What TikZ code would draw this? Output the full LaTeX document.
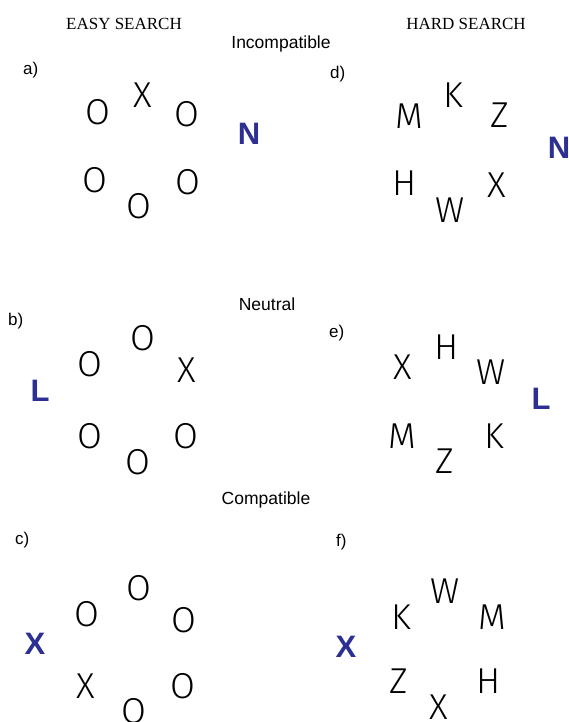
\documentclass[tikz,border=0pt]{standalone}
\usepackage{fontspec}
\setmainfont{Liberation Sans}
\newfontfamily\titlefont{Liberation Serif}
\newfontfamily\stimfont{Fira Sans Light}
\definecolor{targetblue}{RGB}{44,48,146}

\begin{document}
\begin{tikzpicture}[x=1pt,y=-1pt,
  every node/.style={inner sep=0pt},
  stim/.style={font=\stimfont\fontsize{36}{36}\selectfont, text=black},
  target/.style={font=\bfseries\fontsize{31}{31}\selectfont, text=targetblue},
  cond/.style={anchor=base, font=\fontsize{17.5}{17.5}\selectfont},
  panel/.style={anchor=base west, font=\fontsize{17}{17}\selectfont},
  heading/.style={anchor=base, font=\titlefont\fontsize{17}{17}\selectfont}]
\useasboundingbox (0,0) rectangle (569,722);

% column headings and condition names
\node[heading] (easy) at (124,30) {EASY SEARCH};
\node[heading] (hard) at (466,30) {HARD SEARCH};
\node[cond] (incomp) at (281,49) {Incompatible};
\node[cond] (neutral) at (267,310) {Neutral};
\node[cond] (comp) at (266,504) {Compatible};

% panel letters
\node[panel] (pa) at (23,75) {a)};
\node[panel] (pb) at (8,325) {b)};
\node[panel] (pc) at (15,544) {c)};
\node[panel] (pd) at (330,79) {d)};
\node[panel] (pe) at (329,337) {e)};
\node[panel] (pf) at (336,546) {f)};

% a) easy search, incompatible flanker
\node[stim] (a1) at (143,95) {X};
\node[stim] (a2) at (187,114) {O};
\node[stim] (a3) at (188,182) {O};
\node[stim] (a4) at (139,206) {O};
\node[stim] (a5) at (95,180) {O};
\node[stim] (a6) at (98,112) {O};
\node[target] (ta) at (249,134) {N};

% b) easy search, neutral flanker
\node[stim] (b1) at (143,338) {O};
\node[stim] (b2) at (187,370) {X};
\node[stim] (b3) at (186,436) {O};
\node[stim] (b4) at (138,462) {O};
\node[stim] (b5) at (90,436) {O};
\node[stim] (b6) at (90,364) {O};
\node[target] (tb) at (40,391) {L};

% c) easy search, compatible flanker
\node[stim] (c1) at (139,588) {O};
\node[stim] (c2) at (184,620) {O};
\node[stim] (c3) at (183,686) {O};
\node[stim] (c4) at (134,711) {O};
\node[stim] (c5) at (86,686) {X};
\node[stim] (c6) at (87,614) {O};
\node[target] (tc) at (35,644) {X};

% d) hard search, incompatible flanker
\node[stim] (d1) at (453,95) {K};
\node[stim] (d2) at (500,115) {Z};
\node[stim] (d3) at (497,185) {X};
\node[stim] (d4) at (450,210) {W};
\node[stim] (d5) at (405,183) {H};
\node[stim] (d6) at (409,116) {M};
\node[target] (td) at (559,148) {N};

% e) hard search, neutral flanker
\node[stim] (e1) at (447,347) {H};
\node[stim] (e2) at (491,372) {W};
\node[stim] (e3) at (494,436) {K};
\node[stim] (e4) at (445,461) {Z};
\node[stim] (e5) at (402,436) {M};
\node[stim] (e6) at (403,367) {X};
\node[target] (te) at (541,399) {L};

% f) hard search, compatible flanker
\node[stim] (f1) at (445,591) {W};
\node[stim] (f2) at (492,617) {M};
\node[stim] (f3) at (489,681) {H};
\node[stim] (f4) at (439,707) {X};
\node[stim] (f5) at (399,681) {Z};
\node[stim] (f6) at (401,617) {K};
\node[target] (tf) at (346,647) {X};
\end{tikzpicture}
\end{document}
